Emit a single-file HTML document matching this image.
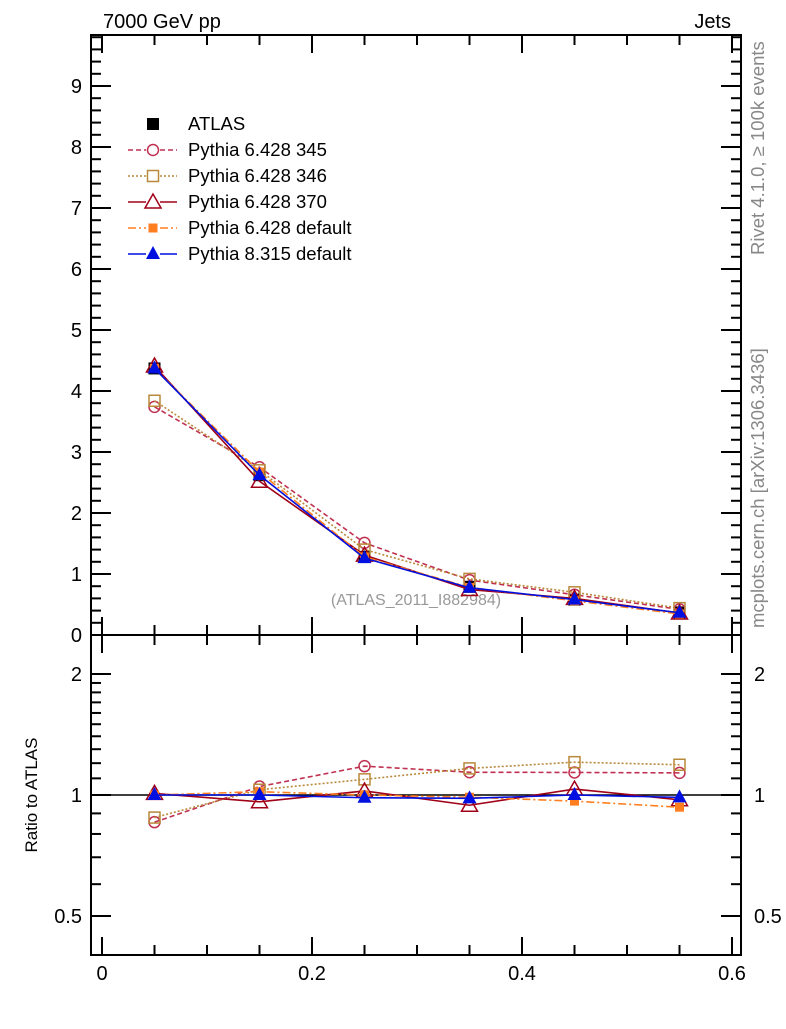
<!DOCTYPE html>
<html><head><meta charset="utf-8"><style>
body{margin:0;background:#fff;width:786px;height:1024px;overflow:hidden}
svg text{font-family:"Liberation Sans",sans-serif}
</style></head><body>
<svg id="c" width="786" height="1024" xmlns="http://www.w3.org/2000/svg">
<text x="103" y="28" font-size="20">7000 GeV pp</text>
<text x="731" y="28" font-size="20" text-anchor="end">Jets</text>
<text transform="translate(764,255) rotate(-90)" font-size="18.5" fill="#888">Rivet 4.1.0, ≥ 100k events</text>
<text transform="translate(764,628) rotate(-90)" font-size="18.5" fill="#888">mcplots.cern.ch [arXiv:1306.3436]</text>
<text x="416" y="605" font-size="16" fill="#999" text-anchor="middle">(ATLAS_2011_I882984)</text>
<text transform="translate(37,795) rotate(-90)" font-size="17" text-anchor="middle">Ratio to ATLAS</text>
<g id="g"></g>
</svg>
<script>
const xs=[0.05,0.15,0.25,0.35,0.45,0.55];
const atlas=[4.37,2.62,1.28,0.79,0.58,0.37];
const p345=[3.74,2.75,1.51,0.90,0.66,0.42];
const p346=[3.84,2.70,1.40,0.92,0.70,0.44];
const p370=[4.41,2.52,1.31,0.745,0.60,0.36];
const p6def=[4.37,2.67,1.28,0.78,0.56,0.345];
const p8=[4.37,2.62,1.26,0.775,0.58,0.365];
const mainTicks=[0,1,2,3,4,5,6,7,8,9];
const ratioTicks=[0.5,1,2];
const xTicks=[0,0.2,0.4,0.6];

const NS="http://www.w3.org/2000/svg";
const g=document.getElementById('g');
const L=91,R=741,T=35,MB=635,RB=955;
const X=v=>102+v*1050;
const Y=v=>MB-v*61;
const YR=r=>795-121*Math.log2(r);
function el(t,a,p){const e=document.createElementNS(NS,t);for(const k in a)e.setAttribute(k,a[k]);(p||g).appendChild(e);return e;}

let f=el('rect',{x:L,y:T,width:R-L,height:MB-T,fill:'none',stroke:'#000','stroke-width':2});


f=el('rect',{x:L,y:MB,width:R-L,height:RB-MB,fill:'none',stroke:'#000','stroke-width':2});



for(let v=0;v<=0.6001;v+=0.05){
  const maj=Math.abs(v/0.2-Math.round(v/0.2))<1e-6;
  const len=maj?18:10,x=X(v);
  for(const [b,t] of [[MB,T],[RB,MB]]){
    el('line',{x1:x,x2:x,y1:b,y2:b-len,stroke:'#000','stroke-width':2});
    el('line',{x1:x,x2:x,y1:t,y2:t+len,stroke:'#000','stroke-width':2});
  }
}
xTicks.forEach(v=>{const t=el('text',{x:X(v),y:980,'font-size':20,'text-anchor':'middle'});t.textContent=v===0?'0':v.toFixed(1);

});
for(let i=0;i<=49;i++){const v=i*0.2,y=Y(v);if(y<T)break;const maj=i%5===0,len=maj?20:10;
  el('line',{x1:L,x2:L+len,y1:y,y2:y,stroke:'#000','stroke-width':2});
  el('line',{x1:R,x2:R-len,y1:y,y2:y,stroke:'#000','stroke-width':2});}
mainTicks.forEach(v=>{const t=el('text',{x:82,y:Y(v)+7,'font-size':20,'text-anchor':'end'});t.textContent=v;

});
for(let i=5;i<=20;i++){const v=i/10,y=YR(v);const maj=(i===5||i===10||i===20),len=maj?20:10;
  el('line',{x1:L,x2:L+len,y1:y,y2:y,stroke:'#000','stroke-width':2});
  el('line',{x1:R,x2:R-len,y1:y,y2:y,stroke:'#000','stroke-width':2});}
ratioTicks.forEach(v=>{for(const [x,a] of [[82,'end'],[754,'start']]){const t=el('text',{x:x,y:YR(v)+7,'font-size':20,'text-anchor':a});t.textContent=v;

}});
el('line',{x1:L,x2:R,y1:YR(1),y2:YR(1),stroke:'#000','stroke-width':1.5});

function marker(kind,x,y,c,p){
  if(kind==='sq') return el('rect',{x:x-6,y:y-6,width:12,height:12,fill:'#000'},p);
  if(kind==='circ') return el('circle',{cx:x,cy:y,r:5.5,fill:'none',stroke:c,'stroke-width':1.5},p);
  if(kind==='osq') return el('rect',{x:x-5.5,y:y-5.5,width:11,height:11,fill:'none',stroke:c,'stroke-width':1.5},p);
  if(kind==='otri') return el('path',{d:`M${x},${y-8}L${x+8},${y+6}L${x-8},${y+6}Z`,fill:'none',stroke:c,'stroke-width':1.5},p);
  if(kind==='fsq') return el('rect',{x:x-4.5,y:y-4.5,width:9,height:9,fill:c},p);
  if(kind==='ftri') return el('path',{d:`M${x},${y-8}L${x+7},${y+5}L${x-7},${y+5}Z`,fill:c},p);
}
const series=[
 {name:'Pythia 6.428 345',v:p345,c:'#c03050',dash:'5,3',m:'circ',id:'p345'},
 {name:'Pythia 6.428 346',v:p346,c:'#b8893a',dash:'2,2',m:'osq',id:'p346'},
 {name:'Pythia 6.428 370',v:p370,c:'#a00018',dash:'',m:'otri',id:'p370'},
 {name:'Pythia 6.428 default',v:p6def,c:'#ff7f20',dash:'8,3,2,3',m:'fsq',id:'p6def'},
 {name:'Pythia 8.315 default',v:p8,c:'#0010e0',dash:'',m:'ftri',id:'p8'}];

xs.forEach((x,i)=>{const m=marker('sq',X(x),Y(atlas[i]));

});
series.forEach(s=>{
  const gm=el('g',{});
  
  
  el('polyline',{points:xs.map((x,i)=>X(x)+','+Y(s.v[i])).join(' '),fill:'none',stroke:s.c,'stroke-width':1.6,'stroke-dasharray':s.dash},gm);
  xs.forEach((x,i)=>{const m=marker(s.m,X(x),Y(s.v[i]),s.c,gm);
  
  });
  const gr=el('g',{});
  
  
  el('polyline',{points:xs.map((x,i)=>X(x)+','+YR(s.v[i]/atlas[i])).join(' '),fill:'none',stroke:s.c,'stroke-width':1.6,'stroke-dasharray':s.dash},gr);
  xs.forEach((x,i)=>{const m=marker(s.m,X(x),YR(s.v[i]/atlas[i]),s.c,gr);
  
  });
});

const lg=el('g',{});


const rows=[{name:'ATLAS',m:'sq',c:'#000',dash:null}].concat(series);
rows.forEach((s,i)=>{
  const y=124+i*26;
  const e=el('g',{},lg);
  
  
  if(s.dash!==null) el('line',{x1:128,x2:177,y1:y,y2:y,stroke:s.c,'stroke-width':1.4,'stroke-dasharray':s.dash},e);
  if(s.dash!==null && s.m!=='sq'){el('rect',{x:146,y:y-7,width:14,height:14,fill:'#fff'},e);}
  marker(s.m,153,y,s.c,e);
  const t=el('text',{x:188,y:y+6,'font-size':18.5},e);t.textContent=s.name;
});
</script>
</body></html>
